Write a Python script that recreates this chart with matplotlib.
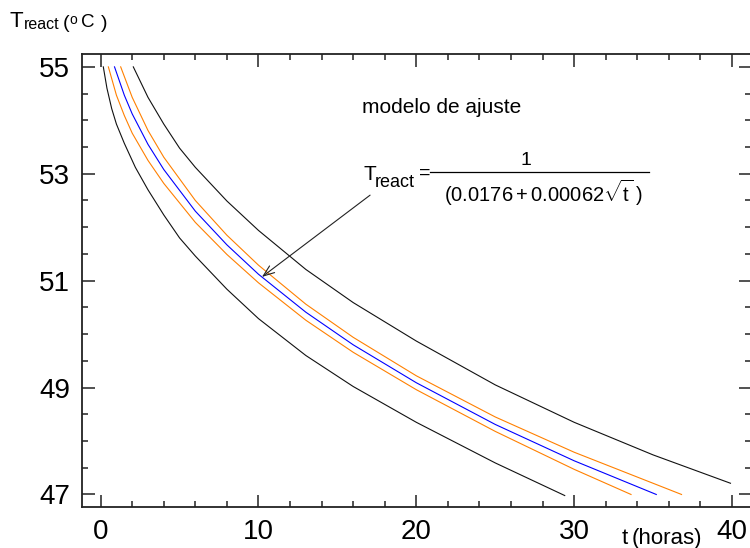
import matplotlib
matplotlib.use('Agg')
import matplotlib.pyplot as plt
from matplotlib.ticker import FixedLocator, MultipleLocator
from matplotlib.lines import Line2D

plt.rcParams['font.family'] = ['Liberation Sans', 'DejaVu Sans']
plt.rcParams['mathtext.fontset'] = 'custom'
plt.rcParams['mathtext.rm'] = 'Liberation Sans'
plt.rcParams['mathtext.it'] = 'Liberation Sans'

# ---------------- data ----------------
t_fit = [0.88, 1.5, 2, 3, 4, 6, 8, 10, 13, 16, 20, 25, 30, 35.2]
T_fit = [55.0, 54.47, 54.12, 53.55, 53.08, 52.30, 51.67, 51.12, 50.41, 49.80, 49.09, 48.31, 47.63, 47.0]

t_orange_lo = [0.49, 1, 1.5, 2, 3, 4, 6, 8, 10, 13, 16, 20, 25, 30, 33.6]
T_orange_lo = [55.0, 54.47, 54.09, 53.76, 53.25, 52.82, 52.09, 51.49, 50.96, 50.26, 49.66, 48.96, 48.18, 47.47, 47.0]

t_orange_hi = [1.27, 2, 3, 4, 6, 8, 10, 13, 16, 20, 25, 30, 36.8]
T_orange_hi = [55.0, 54.43, 53.81, 53.31, 52.50, 51.85, 51.29, 50.56, 49.94, 49.22, 48.45, 47.79, 47.0]

t_black_lo = [0.17, 0.4, 0.7, 1.0, 1.5, 2.2, 3, 4, 5, 6, 8, 10, 13, 16, 20, 25, 29.4]
T_black_lo = [55.0, 54.6, 54.22, 53.93, 53.57, 53.12, 52.70, 52.23, 51.80, 51.46, 50.84, 50.29, 49.60, 49.02, 48.35, 47.59, 46.98]

t_black_hi = [2.07, 3, 4, 5, 6, 8, 10, 13, 16, 20, 25, 30, 35, 39.9]
T_black_hi = [55.0, 54.43, 53.93, 53.48, 53.12, 52.49, 51.94, 51.21, 50.59, 49.87, 49.05, 48.35, 47.74, 47.21]

x_ticks = [0, 10, 20, 30, 40]
x_labels = ['0', '10', '20', '30', '40']
y_ticks = [47, 49, 51, 53, 55]
y_labels = ['47', '49', '51', '53', '55']

arrow_tip = (10.22, 51.07)
arrow_tail = (17.07, 52.60)

# ---------------- figure ----------------
W, H = 750, 548
fig = plt.figure(figsize=(W / 100, H / 100), dpi=100)
ax = fig.add_axes([82 / W, (H - 507.3) / H, 669 / W, 453.8 / H])


def fx(x):
    return x / W


def fy(y):
    return 1 - y / H


ax.plot(t_black_lo, T_black_lo, color='#111111', lw=0.8)
ax.plot(t_black_hi, T_black_hi, color='#111111', lw=0.8)
ax.plot(t_orange_lo, T_orange_lo, color='#ff8000', lw=0.8)
ax.plot(t_orange_hi, T_orange_hi, color='#ff8000', lw=0.8)
ax.plot(t_fit, T_fit, color='#0000ff', lw=0.8)

ax.set_xlim(-1.18, 41.2)
ax.set_ylim(46.76, 55.25)

ax.xaxis.set_major_locator(FixedLocator(x_ticks))
ax.set_xticklabels(x_labels)
ax.xaxis.set_minor_locator(MultipleLocator(2))
ax.yaxis.set_major_locator(FixedLocator(y_ticks))
ax.set_yticklabels(y_labels)
ax.yaxis.set_minor_locator(MultipleLocator(0.5))

ax.tick_params(which='both', direction='in', top=True, right=True,
               color='#222222', width=1.1)
ax.tick_params(which='major', length=9, labelsize=20, pad=8.5)
ax.tick_params(which='minor', length=4.5)
for s in ax.spines.values():
    s.set_linewidth(1.3)
    s.set_color('#222222')

# axis label (top-left)
fig.text(fx(10), fy(26.7), 'T', fontsize=16, va='baseline', ha='left')
fig.text(fx(24), fy(29), 'react', fontsize=11.5, va='baseline', ha='left')
fig.text(fx(62.5), fy(27.5), '(', fontsize=14, va='baseline', ha='left')
fig.text(fx(69), fy(24.5), 'o', fontsize=10, va='baseline', ha='left')
fig.text(fx(81), fy(26.7), 'C', fontsize=13.5, va='baseline', ha='left')
fig.text(fx(101), fy(27.5), ')', fontsize=14, va='baseline', ha='left')

# x axis label
fig.text(fx(622), fy(544), 't', fontsize=16, va='baseline', ha='left')
fig.text(fx(632), fy(544), '(horas)', fontsize=16, va='baseline', ha='left')

# model annotation
fig.text(fx(441.7), fy(113.3), 'modelo de ajuste', fontsize=15,
         va='baseline', ha='center')
fig.text(fx(363), fy(180), 'T', fontsize=15, va='baseline', ha='left')
fig.text(fx(375), fy(187), 'react', fontsize=13, va='baseline', ha='left')
fig.text(fx(424.5), fy(173), '=', fontsize=14, va='center', ha='center')
fig.lines.append(Line2D([fx(430), fx(649)], [fy(172.3), fy(172.3)],
                        transform=fig.transFigure, color='black', lw=0.9))
fig.text(fx(526), fy(165), '1', fontsize=14, va='baseline', ha='center')
fig.text(fx(544), fy(201.7), r'$(0.0176+0.00062\sqrt{\mathrm{t}}\;)$',
         fontsize=14.5, va='baseline', ha='center')

ax.annotate('', xy=arrow_tip, xytext=arrow_tail,
            arrowprops=dict(arrowstyle='->,head_length=0.8,head_width=0.3',
                            color='#222222', lw=0.8, shrinkA=0, shrinkB=0))

fig.savefig('out.png', dpi=100)
